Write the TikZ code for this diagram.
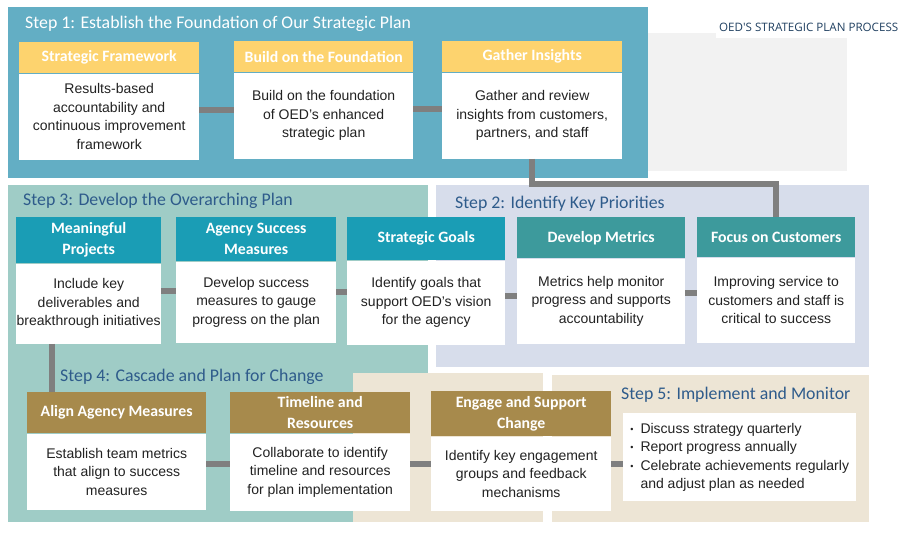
\documentclass[tikz,border=0pt]{standalone}
\usepackage{fontspec}
\setmainfont{Liberation Sans}
\newfontfamily\calib{Carlito}
\newfontfamily\opensans{Open Sans}
\usetikzlibrary{positioning}

\definecolor{stepone}{HTML}{63AEC4}
\definecolor{stepthree}{HTML}{9FCCC6}
\definecolor{steptwo}{HTML}{D7DDEB}
\definecolor{beige}{HTML}{EDE5D5}
\definecolor{greypanel}{HTML}{F2F2F2}
\definecolor{headyellow}{HTML}{FDD36E}
\definecolor{headteal}{HTML}{1A9DB5}
\definecolor{headgreen}{HTML}{3D9A9C}
\definecolor{headgold}{HTML}{A78A4C}
\definecolor{linkgray}{HTML}{7F7F7F}
\definecolor{titleblue}{HTML}{2E5B8B}
\definecolor{bodytext}{HTML}{222222}

\begin{document}
\begin{tikzpicture}[x=1pt, y=-1pt,
  head/.style={fill=#1, text=white, font=\calib\bfseries\fontsize{15.8}{21}\selectfont, align=center, inner sep=0pt, anchor=north west},
  body/.style={fill=white, text=bodytext, font=\fontsize{14}{18.5}\selectfont, align=center, inner sep=0pt},
  steptitle/.style={anchor=west, inner sep=0pt, text=titleblue, font=\calib\fontsize{17.8}{20}\selectfont},
  link/.style={draw=linkgray, line width=6pt}]
\useasboundingbox[fill=white] (0,0) rectangle (902,539);

% panels
\fill[stepone] (8,7) rectangle (648,178);
\fill[greypanel] (648,33) rectangle (847,171);
\fill[stepthree] (8,185) rectangle (428,373);
\fill[stepthree] (8,373) rectangle (353,522);
\fill[steptwo] (436,185) rectangle (869,367);
\fill[beige] (353,373) rectangle (543,522);
\fill[beige] (552,375) rectangle (869,522);

\node[anchor=west, fill=white, inner sep=3pt, minimum height=22pt, text=titleblue!70!black, font=\opensans\fontsize{11.6}{13}\selectfont] (title) at (716,27) {OED'S STRATEGIC PLAN PROCESS};

\node[steptitle, text=white] (s1) at (25,24) {Step 1: Establish the Foundation of Our Strategic Plan};
\node[steptitle] (s2) at (455,204) {Step 2: Identify Key Priorities};
\node[steptitle] (s3) at (23,201) {Step 3: Develop the Overarching Plan};
\node[steptitle] (s4) at (60,377) {Step 4: Cascade and Plan for Change};
\node[steptitle] (s5) at (621,395) {Step 5: Implement and Monitor};

% step 1
\node[head=headyellow, minimum width=180pt, minimum height=31pt] (sfh) at (19,42) {Strategic Framework};
\node[body, minimum width=180pt, minimum height=86pt, below=0pt of sfh] (sfb) {Results-based\\accountability and\\continuous improvement\\framework};
\node[head=headyellow, minimum width=179pt, minimum height=31pt] (bfh) at (234,41) {Build on the Foundation};
\node[body, minimum width=179pt, minimum height=86pt, below=0pt of bfh] (bfb) {Build on the foundation\\of OED's enhanced\\strategic plan};
\node[head=headyellow, minimum width=180pt, minimum height=31pt] (gih) at (442,41) {Gather Insights};
\node[body, minimum width=180pt, minimum height=86pt, below=0pt of gih] (gib) {Gather and review\\insights from customers,\\partners, and staff};

% step 3 and step 2
\node[head=headteal, minimum width=145pt, minimum height=46pt] (mph) at (16,217) {Meaningful\\Projects};
\node[body, minimum width=145pt, minimum height=80pt, below=0pt of mph] (mpb) {Include key\\deliverables and\\breakthrough initiatives};
\node[head=headteal, minimum width=160pt, minimum height=44pt] (ash) at (176,217) {Agency Success\\Measures};
\node[body, minimum width=160pt, minimum height=81pt, below=0pt of ash] (asb) {Develop success\\measures to gauge\\progress on the plan};
\node[head=headteal, minimum width=158pt, minimum height=43pt] (sgh) at (347,217) {Strategic Goals};
\node[body, minimum width=158pt, minimum height=84pt, below=0pt of sgh] (sgb) {Identify goals that\\support OED's vision\\for the agency};
\node[head=headgreen, minimum width=168pt, minimum height=41pt] (dmh) at (517,217) {Develop Metrics};
\node[body, minimum width=168pt, minimum height=85pt, below=0pt of dmh] (dmb) {Metrics help monitor\\progress and supports\\accountability};
\node[head=headgreen, minimum width=158pt, minimum height=40pt] (fch) at (697,217) {Focus on Customers};
\node[body, minimum width=158pt, minimum height=85pt, below=0pt of fch] (fcb) {Improving service to\\customers and staff is\\critical to success};

% step 4 and step 5
\node[head=headgold, minimum width=179pt, minimum height=41pt] (aah) at (27,392) {Align Agency Measures};
\node[body, minimum width=179pt, minimum height=76pt, below=0pt of aah] (aab) {Establish team metrics\\that align to success\\measures};
\node[head=headgold, minimum width=180pt, minimum height=41pt] (trh) at (230,392) {Timeline and\\Resources};
\node[body, minimum width=180pt, minimum height=77pt, below=0pt of trh] (trb) {Collaborate to identify\\timeline and resources\\for plan implementation};
\node[head=headgold, minimum width=180pt, minimum height=45pt] (esh) at (431,391) {Engage and Support\\Change};
\node[body, minimum width=180pt, minimum height=74pt, below=0pt of esh] (esb) {Identify key engagement\\groups and feedback\\mechanisms};
\node[body, anchor=north west, minimum width=233pt, minimum height=88pt, align=left] (imb) at (623,413) {%
  \begin{tabular}{@{}l@{\hspace{7pt}}l@{}}
  \raisebox{1pt}{\fontsize{9}{9}\selectfont\textbullet} & Discuss strategy quarterly\\
  \raisebox{1pt}{\fontsize{9}{9}\selectfont\textbullet} & Report progress annually\\
  \raisebox{1pt}{\fontsize{9}{9}\selectfont\textbullet} & Celebrate achievements regularly\\
   & and adjust plan as needed
  \end{tabular}};

% connectors
\coordinate (c1) at ([yshift=7pt]sfb.east);
\draw[link] (c1) -- (c1 -| bfb.west);
\coordinate (c2) at ([yshift=7pt]bfb.east);
\draw[link] (c2) -- (c2 -| gib.west);
\draw[link] (gib.south) -- ++(0,25) -| (fch.north);
\coordinate (c3) at ([yshift=13pt]mpb.east);
\draw[link] (c3) -- (c3 -| asb.west);
\coordinate (c4) at ([yshift=10pt]asb.east);
\draw[link] (c4) -- (c4 -| sgb.west);
\coordinate (c5) at ([yshift=7pt]sgb.east);
\draw[link] (c5) -- (c5 -| dmb.west);
\coordinate (c6) at ([yshift=8pt]dmb.east);
\draw[link] (c6) -- (c6 -| fcb.west);
\coordinate (mpdrop) at ([xshift=36pt]mpb.south west);
\draw[link] (mpdrop) -- (mpdrop |- aah.north);
\coordinate (c7) at ([yshift=8pt]aab.east);
\draw[link] (c7) -- (c7 -| trb.west);
\coordinate (c8) at ([yshift=8pt]trb.east);
\draw[link] (c8) -- (c8 -| esb.west);
\coordinate (c9) at ([yshift=10pt]esb.east);
\draw[link] (c9) -- (c9 -| imb.west);
\end{tikzpicture}
\end{document}
